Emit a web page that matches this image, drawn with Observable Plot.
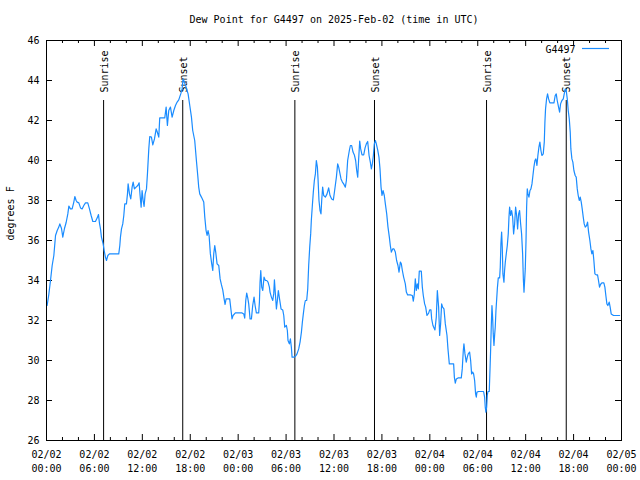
<!DOCTYPE html>
<html>
<head>
<meta charset="utf-8">
<script src="https://cdn.jsdelivr.net/npm/d3@7"></script>
<script src="https://cdn.jsdelivr.net/npm/@observablehq/plot@0.6"></script>
<style>
  html, body { margin: 0; padding: 0; background: #fff; }
</style>
</head>
<body>
<div id="chart"></div>
<script>
const title = "Dew Point for G4497 on 2025-Feb-02 (time in UTC)";
const yLabel = "degrees F";
const seriesName = "G4497";

// hours since 2025-02-02 00:00 UTC
const hours = [
  0.08,0.29,0.5,0.71,0.92,1.13,1.34,1.54,1.67,1.88,2.04,2.25,2.46,2.67,2.8,3.0,3.21,3.42,3.55,3.71,3.84,4.05,4.26,4.46,4.67,4.88,5.17,5.38,5.59,5.8,6.13,6.34,6.51,6.63,6.76,6.88,7.09,7.22,7.38,7.51,7.68,7.88,8.43,9.05,9.18,9.26,9.39,9.55,9.68,9.8,10.01,10.14,10.22,10.39,10.55,10.72,10.85,11.01,11.22,11.43,11.6,11.72,11.85,11.97,12.1,12.22,12.35,12.52,12.64,12.81,12.93,13.14,13.31,13.52,13.73,13.85,14.06,14.18,14.48,14.81,14.98,15.14,15.31,15.52,15.73,15.94,16.15,16.36,16.56,16.81,16.98,17.1,17.27,17.48,17.73,17.94,
  18.15,18.31,18.56,18.77,18.94,19.06,19.19,19.4,19.69,19.82,19.98,20.11,20.23,20.36,20.52,20.69,20.82,20.94,21.07,21.19,21.36,21.57,21.74,21.91,22.07,22.24,22.36,22.49,22.69,22.94,23.11,23.23,23.36,23.65,24.07,24.49,24.7,24.82,24.95,25.07,25.2,25.32,25.49,25.66,25.82,25.99,26.12,26.28,26.57,26.66,26.74,26.83,26.95,27.08,27.24,27.41,27.58,27.74,27.91,27.99,28.16,28.33,28.45,28.54,28.66,28.79,28.91,29.03,29.2,29.37,29.58,29.71,29.83,30.04,30.16,30.24,30.41,30.54,30.66,30.75,30.96,31.16,31.37,31.58,31.75,31.92,32.04,32.16,32.29,32.41,32.58,32.71,32.83,32.96,33.08,33.16,33.29,33.41,33.54,33.67,33.79,33.92,34.0,34.12,34.25,34.37,34.46,34.58,34.71,34.92,35.13,35.33,35.5,35.71,35.92,36.08,
  36.3,36.46,36.59,36.71,36.88,37.05,37.21,37.42,37.55,37.71,37.92,38.05,38.21,38.38,38.55,38.71,38.84,38.97,39.09,39.22,39.34,39.51,39.72,39.89,40.05,40.22,40.39,40.55,40.68,40.8,40.93,41.05,41.18,41.3,41.47,41.63,41.76,41.89,42.01,42.14,42.3,42.43,42.6,42.76,42.93,43.05,43.18,43.35,43.51,43.68,43.84,44.01,44.14,44.31,44.43,44.56,44.72,44.93,45.06,45.22,45.56,45.81,45.93,46.06,46.18,46.31,46.43,46.56,46.68,46.93,47.06,47.18,47.35,47.48,47.64,47.85,47.98,48.14,48.23,48.39,48.64,48.81,48.94,49.1,49.23,49.35,49.48,49.6,49.77,49.94,50.15,50.27,50.44,50.73,50.98,51.07,51.19,51.32,51.53,51.94,52.06,52.19,52.27,52.4,52.56,52.69,52.81,52.98,53.11,53.23,53.36,53.48,53.61,53.73,53.82,53.9,54.11,
  54.32,54.73,54.86,54.94,55.02,55.11,55.19,55.28,55.44,55.53,55.61,55.69,55.78,55.86,55.94,56.03,56.11,56.19,56.28,56.36,56.45,56.57,56.74,56.82,56.9,56.99,57.07,57.15,57.28,57.36,57.45,57.57,57.7,57.82,57.91,57.99,58.12,58.24,58.37,58.49,58.62,58.74,58.87,58.99,59.12,59.24,59.37,59.49,59.62,59.71,59.79,59.87,59.95,60.04,60.12,60.2,60.29,60.41,60.54,60.66,60.79,60.91,61.03,61.16,61.28,61.41,61.53,61.66,61.78,61.91,62.03,62.2,62.33,62.41,62.49,62.62,62.74,62.87,63.03,63.54,63.7,63.83,63.95,64.12,64.25,64.37,64.54,64.71,64.83,64.96,65.08,65.21,65.33,65.46,65.58,65.66,65.79,65.91,66.04,66.2,66.33,66.46,66.58,66.71,66.83,66.96,67.08,67.21,67.33,67.46,67.63,67.75,67.88,68.04,68.17,68.29,68.42,68.54,68.67,68.83,69.0,69.12,69.25,69.37,69.54,69.79,69.92,70.04,70.17,70.29,70.46,70.58,70.71,71.0,71.76
];

// dew point, degrees F
const dewPoint = [
  32.75,33.3,34.0,34.75,35.25,36.25,36.5,36.67,36.83,36.6,36.17,36.6,36.9,37.33,37.72,37.58,37.58,37.92,38.2,38.0,37.92,37.88,37.63,37.58,37.75,37.88,37.88,37.58,37.25,36.95,36.95,37.12,37.3,36.87,36.58,36.17,35.83,35.5,35.17,35.0,35.25,35.33,35.33,35.33,35.75,36.17,36.58,36.83,37.25,37.83,37.83,38.33,38.83,38.33,38.08,38.67,38.92,38.58,38.67,38.75,38.88,38.25,37.67,38.5,38.0,37.7,38.33,38.58,39.33,40.58,41.2,41.17,40.78,41.08,41.58,41.45,41.17,42.13,42.13,42.13,42.67,41.75,42.5,42.67,42.17,42.5,42.75,42.92,43.03,43.33,43.58,44.08,43.92,43.67,43.33,42.75,
  42.17,41.5,41.0,40.0,39.25,38.67,38.33,38.17,37.92,37.17,36.5,36.25,36.5,36.25,35.33,34.83,34.5,35.33,35.75,35.42,34.83,34.75,34.08,33.78,33.53,33.08,32.8,33.08,33.08,33.08,32.5,32.08,32.25,32.38,32.38,32.38,32.33,32.12,33.0,33.37,33.13,32.83,32.08,32.08,32.75,33.17,32.75,32.38,32.38,32.92,33.92,34.5,33.67,33.5,34.17,34.0,34.0,33.92,33.67,33.42,33.17,33.0,33.33,34.03,33.33,32.58,33.0,33.5,33.03,32.58,32.53,32.25,31.67,31.75,31.5,31.0,30.83,31.08,30.67,30.17,30.17,30.2,30.33,30.58,30.92,31.42,31.92,32.33,32.75,33.0,33.0,33.58,34.75,35.67,36.33,37.0,37.75,38.42,39.0,39.33,40.0,39.67,39.08,38.0,37.5,37.33,38.0,38.67,38.25,38.17,38.33,38.63,38.25,38.08,38.03,38.5,
  39.17,39.83,39.67,39.42,39.08,38.92,38.83,38.67,39.0,40.0,40.5,40.75,40.75,40.42,40.28,40.0,39.5,39.17,40.08,40.97,40.58,40.28,40.28,40.63,40.83,40.95,40.25,39.92,39.58,39.83,40.25,40.83,41.0,40.83,40.53,40.17,39.58,38.67,38.25,38.5,38.25,37.83,37.33,36.67,36.17,35.75,35.42,35.58,35.58,35.42,35.0,34.75,34.42,34.92,34.83,34.5,34.17,33.83,33.42,33.28,33.28,33.25,32.97,33.33,34.08,33.5,33.83,33.58,34.47,34.47,33.67,33.25,32.83,32.67,32.25,32.37,32.53,32.53,32.08,31.75,31.53,32.17,33.5,32.67,31.25,31.83,32.83,32.67,32.58,31.83,31.25,30.58,29.83,29.83,29.83,29.17,28.87,29.08,29.13,29.13,29.58,30.5,30.83,30.33,29.92,30.17,30.33,30.42,30.0,29.33,29.42,29.33,29.0,28.33,28.17,28.42,28.45,
  28.45,28.45,28.17,27.67,27.42,27.67,28.25,28.45,28.45,29.5,30.5,31.67,32.75,32.17,31.33,30.75,31.25,31.67,32.5,33.0,33.58,34.13,34.13,34.67,35.83,36.42,35.67,34.33,33.92,34.5,34.92,35.33,35.75,36.33,37.17,37.67,37.25,37.5,37.17,36.33,36.83,37.67,37.25,36.58,37.33,37.5,36.83,36.33,35.33,34.08,33.42,34.0,34.58,35.92,37.67,38.58,38.33,38.17,38.5,38.58,38.83,39.25,39.67,40.0,40.08,39.75,40.25,40.67,40.92,40.5,40.25,40.33,40.92,41.92,42.58,43.08,43.33,43.08,42.88,42.88,43.25,43.33,43.0,42.67,42.42,42.83,43.0,43.08,43.33,43.58,43.5,43.08,42.5,42.08,41.42,40.58,40.08,39.92,39.5,39.25,39.17,38.58,38.25,38.0,38.17,37.92,37.58,37.17,36.83,36.67,36.75,36.92,36.42,36.0,35.58,35.33,35.5,35.0,34.33,34.28,34.28,34.0,33.67,33.8,33.88,33.88,33.67,33.25,32.83,32.75,32.92,32.67,32.33,32.25,32.25
];

const sunHours = [7.15, 17.06, 31.1, 41.07, 55.1, 65.08];
const sunLabels = ["Sunrise", "Sunset", "Sunrise", "Sunset", "Sunrise", "Sunset"];

const xMajorHours = [0, 6, 12, 18, 24, 30, 36, 42, 48, 54, 60, 66, 72];
const xTickLabels = ["02/02\n00:00","02/02\n06:00","02/02\n12:00","02/02\n18:00","02/03\n00:00","02/03\n06:00","02/03\n12:00","02/03\n18:00","02/04\n00:00","02/04\n06:00","02/04\n12:00","02/04\n18:00","02/05\n00:00"];
const xMinorHours = [2,4,8,10,14,16,20,22,26,28,32,34,38,40,44,46,50,52,56,58,62,64,68,70];
const yTicks = [26, 28, 30, 32, 34, 36, 38, 40, 42, 44, 46];

const t0 = Date.UTC(2025, 1, 2);
const toDate = h => new Date(t0 + h * 3600e3);
const data = hours.map((h, i) => ({t: toDate(h), v: dewPoint[i]}));
const xStart = toDate(xMajorHours[0]);
const xEnd = toDate(xMajorHours[xMajorHours.length - 1]);
const yMin = yTicks[0], yMax = yTicks[yTicks.length - 1];

const lineColor = "#1a8cff";
const ymTick = 0.3, ymMinor = 0.15; // tick lengths in y units (20px per unit)
const xTickLen = 0.75 * 3600e3;      // tick length in ms (8px per hour)

const legendMark = (index, scales, values, dims) => {
  const g = document.createElementNS("http://www.w3.org/2000/svg", "line");
  const xr = dims.width - dims.marginRight - 12;
  g.setAttribute("x1", xr - 27);
  g.setAttribute("x2", xr);
  g.setAttribute("y1", dims.marginTop + 8.5);
  g.setAttribute("y2", dims.marginTop + 8.5);
  g.setAttribute("stroke", lineColor);
  g.setAttribute("stroke-width", 1.2);
  return g;
};

const chart = Plot.plot({
  width: 640,
  height: 480,
  marginLeft: 46,
  marginRight: 19,
  marginTop: 40,
  marginBottom: 40,
  style: {fontFamily: "'DejaVu Sans Mono', monospace", fontSize: "10px", background: "#fff", color: "#000", overflow: "visible"},
  x: {type: "utc", domain: [xStart, xEnd], axis: null},
  y: {domain: [yMin, yMax], axis: null},
  marks: [
    // x ticks (inward, bottom and top)
    Plot.ruleX(xMinorHours, {x: toDate, y1: yMin, y2: yMin + ymMinor, stroke: "#000"}),
    Plot.ruleX(xMinorHours, {x: toDate, y1: yMax, y2: yMax - ymMinor, stroke: "#000"}),
    Plot.ruleX(xMajorHours, {x: toDate, y1: yMin, y2: yMin + ymTick, stroke: "#000"}),
    Plot.ruleX(xMajorHours, {x: toDate, y1: yMax, y2: yMax - ymTick, stroke: "#000"}),
    // y ticks (inward, left and right)
    Plot.ruleY(yTicks, {y: d => d, x1: xStart, x2: new Date(+xStart + xTickLen), stroke: "#000"}),
    Plot.ruleY(yTicks, {y: d => d, x1: xEnd, x2: new Date(+xEnd - xTickLen), stroke: "#000"}),
    // tick labels
    Plot.text(xMajorHours, {x: toDate, frameAnchor: "bottom", text: (d, i) => xTickLabels[i], lineAnchor: "top", lineHeight: 1.4, dy: 8, fill: "#000"}),
    Plot.text(yTicks, {y: d => d, frameAnchor: "left", text: d => String(d), textAnchor: "end", dx: -7, fill: "#000"}),
    // sunrise / sunset
    Plot.ruleX(sunHours, {x: toDate, y1: yMin, y2: 43, stroke: "#000", strokeWidth: 1}),
    Plot.text(sunHours, {x: toDate, y: 43, text: (d, i) => sunLabels[i], rotate: -90, textAnchor: "start", dy: -8, dx: 1, fill: "#000"}),
    // data
    Plot.line(data, {x: "t", y: "v", stroke: lineColor, strokeWidth: 1.2}),
    Plot.frame({stroke: "#000"}),
    // title, axis label, legend
    Plot.text([title], {frameAnchor: "top", lineAnchor: "middle", dy: -21, fill: "#000"}),
    Plot.text([yLabel], {frameAnchor: "left", dx: -36, rotate: -90, fill: "#000"}),
    Plot.text([seriesName], {frameAnchor: "top-right", lineAnchor: "middle", dx: -46, dy: 9, textAnchor: "end", fill: "#000"}),
    legendMark
  ]
});
document.getElementById("chart").appendChild(chart);
</script>
</body>
</html>
